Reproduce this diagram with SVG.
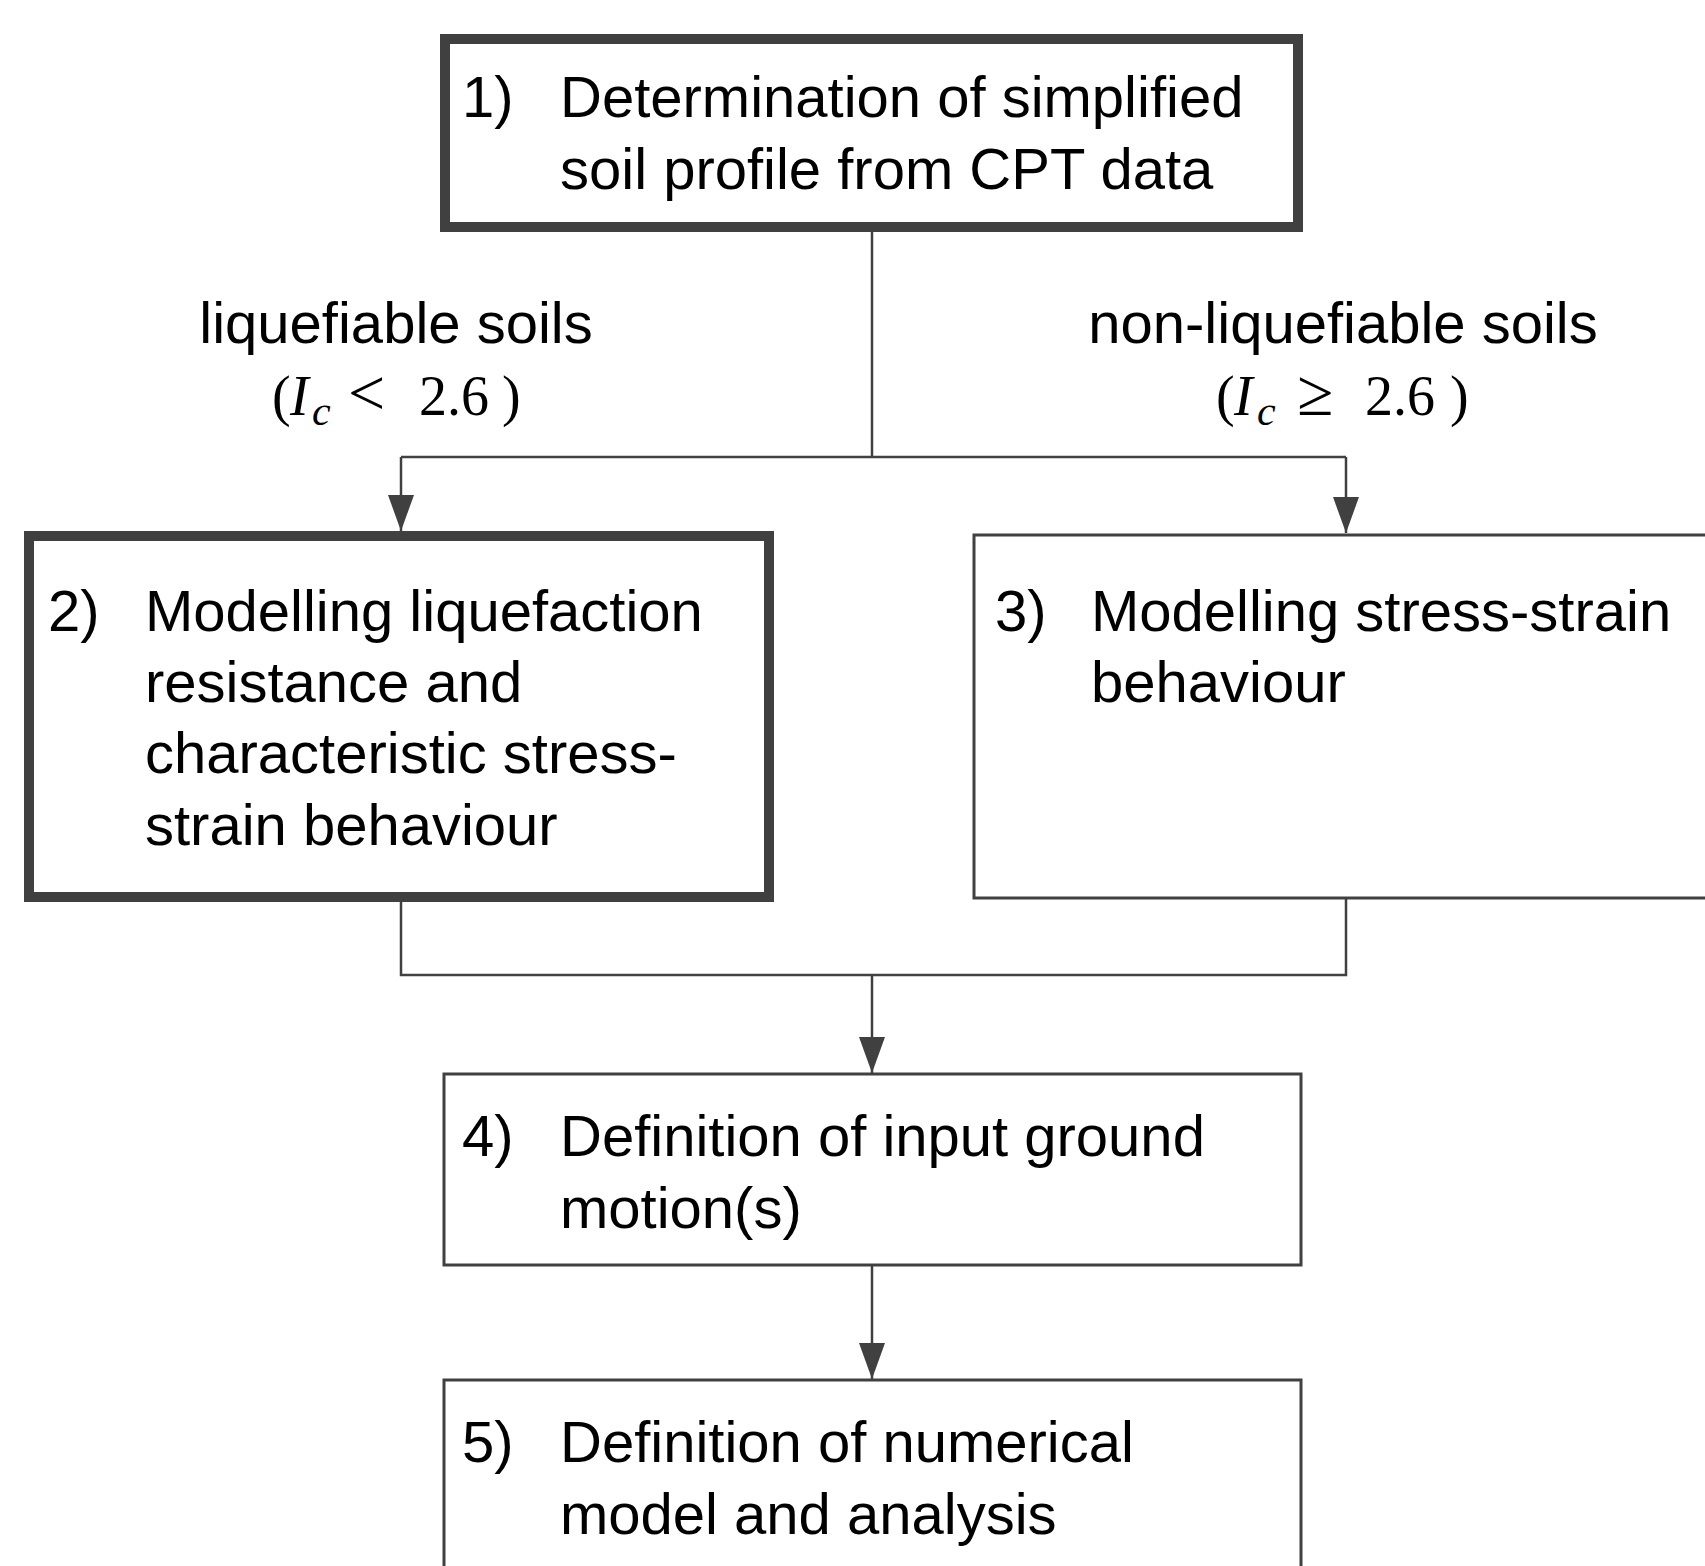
<svg xmlns="http://www.w3.org/2000/svg" width="1705" height="1566" viewBox="0 0 1705 1566">
<style>
.txt{font-family:"Liberation Sans",Arial,sans-serif;font-size:58px;fill:#000}
.math{font-family:"Liberation Serif","Times New Roman",serif;font-size:56px;fill:#000}
.it{font-style:italic}
.rel{font-size:66px}
.thick{fill:#fff;stroke:#404040;stroke-width:10}
.thin{fill:#fff;stroke:#404040;stroke-width:3}
.conn{fill:none;stroke:#404040;stroke-width:2.5}
</style>
<defs>
<marker id="arr" viewBox="0 0 36 26" refX="36" refY="13" markerWidth="36" markerHeight="26" markerUnits="userSpaceOnUse" orient="auto">
<path d="M0,0 L36,13 L0,26 z" fill="#404040"/>
</marker>
</defs>
<rect width="1705" height="1566" fill="#fff"/>
<g id="connectors">
<path class="conn" d="M872,232 V457"/>
<path class="conn" d="M401,457 H1346"/>
<path class="conn" d="M401,457 V531" marker-end="url(#arr)"/>
<path class="conn" d="M1346,457 V533" marker-end="url(#arr)"/>
<path class="conn" d="M401,901 V975 H1346 V898"/>
<path class="conn" d="M872,975 V1073" marker-end="url(#arr)"/>
<path class="conn" d="M872,1266 V1379" marker-end="url(#arr)"/>
</g>
<g id="label-liquefiable">
<text class="txt" x="396" y="343" text-anchor="middle">liquefiable soils</text>
<text class="math" y="415"><tspan x="272">(</tspan><tspan x="290" class="it">I</tspan><tspan x="312" dy="10" class="it" font-size="42">c</tspan><tspan x="348" dy="-10" class="rel">&lt;</tspan><tspan x="419">2.6</tspan><tspan x="502">)</tspan></text>
</g>
<g id="label-nonliquefiable">
<text class="txt" x="1343" y="343" text-anchor="middle">non-liquefiable soils</text>
<text class="math" y="415"><tspan x="1216">(</tspan><tspan x="1234" class="it">I</tspan><tspan x="1257" dy="10" class="it" font-size="42">c</tspan><tspan x="1297" dy="-10" class="rel">≥</tspan><tspan x="1365">2.6</tspan><tspan x="1450">)</tspan></text>
</g>
<g id="node1">
<rect class="thick" x="445" y="39" width="853" height="188"/>
<text class="txt" x="462" y="117">1)</text>
<text class="txt" x="560" y="117">Determination of simplified</text>
<text class="txt" x="560" y="189">soil profile from CPT data</text>
</g>
<g id="node2">
<rect class="thick" x="29" y="536" width="740" height="361"/>
<text class="txt" x="48" y="631">2)</text>
<text class="txt" x="145" y="631">Modelling liquefaction</text>
<text class="txt" x="145" y="702">resistance and</text>
<text class="txt" x="145" y="773">characteristic stress-</text>
<text class="txt" x="145" y="845">strain behaviour</text>
</g>
<g id="node3">
<rect class="thin" x="974" y="535" width="760" height="363"/>
<text class="txt" x="995" y="631">3)</text>
<text class="txt" x="1091" y="631">Modelling stress-strain</text>
<text class="txt" x="1091" y="702">behaviour</text>
</g>
<g id="node4">
<rect class="thin" x="444" y="1074" width="857" height="191"/>
<text class="txt" x="462" y="1156">4)</text>
<text class="txt" x="560" y="1156">Definition of input ground</text>
<text class="txt" x="560" y="1228">motion(s)</text>
</g>
<g id="node5">
<rect class="thin" x="444" y="1380" width="857" height="250"/>
<text class="txt" x="462" y="1462">5)</text>
<text class="txt" x="560" y="1462">Definition of numerical</text>
<text class="txt" x="560" y="1534">model and analysis</text>
</g>
</svg>
